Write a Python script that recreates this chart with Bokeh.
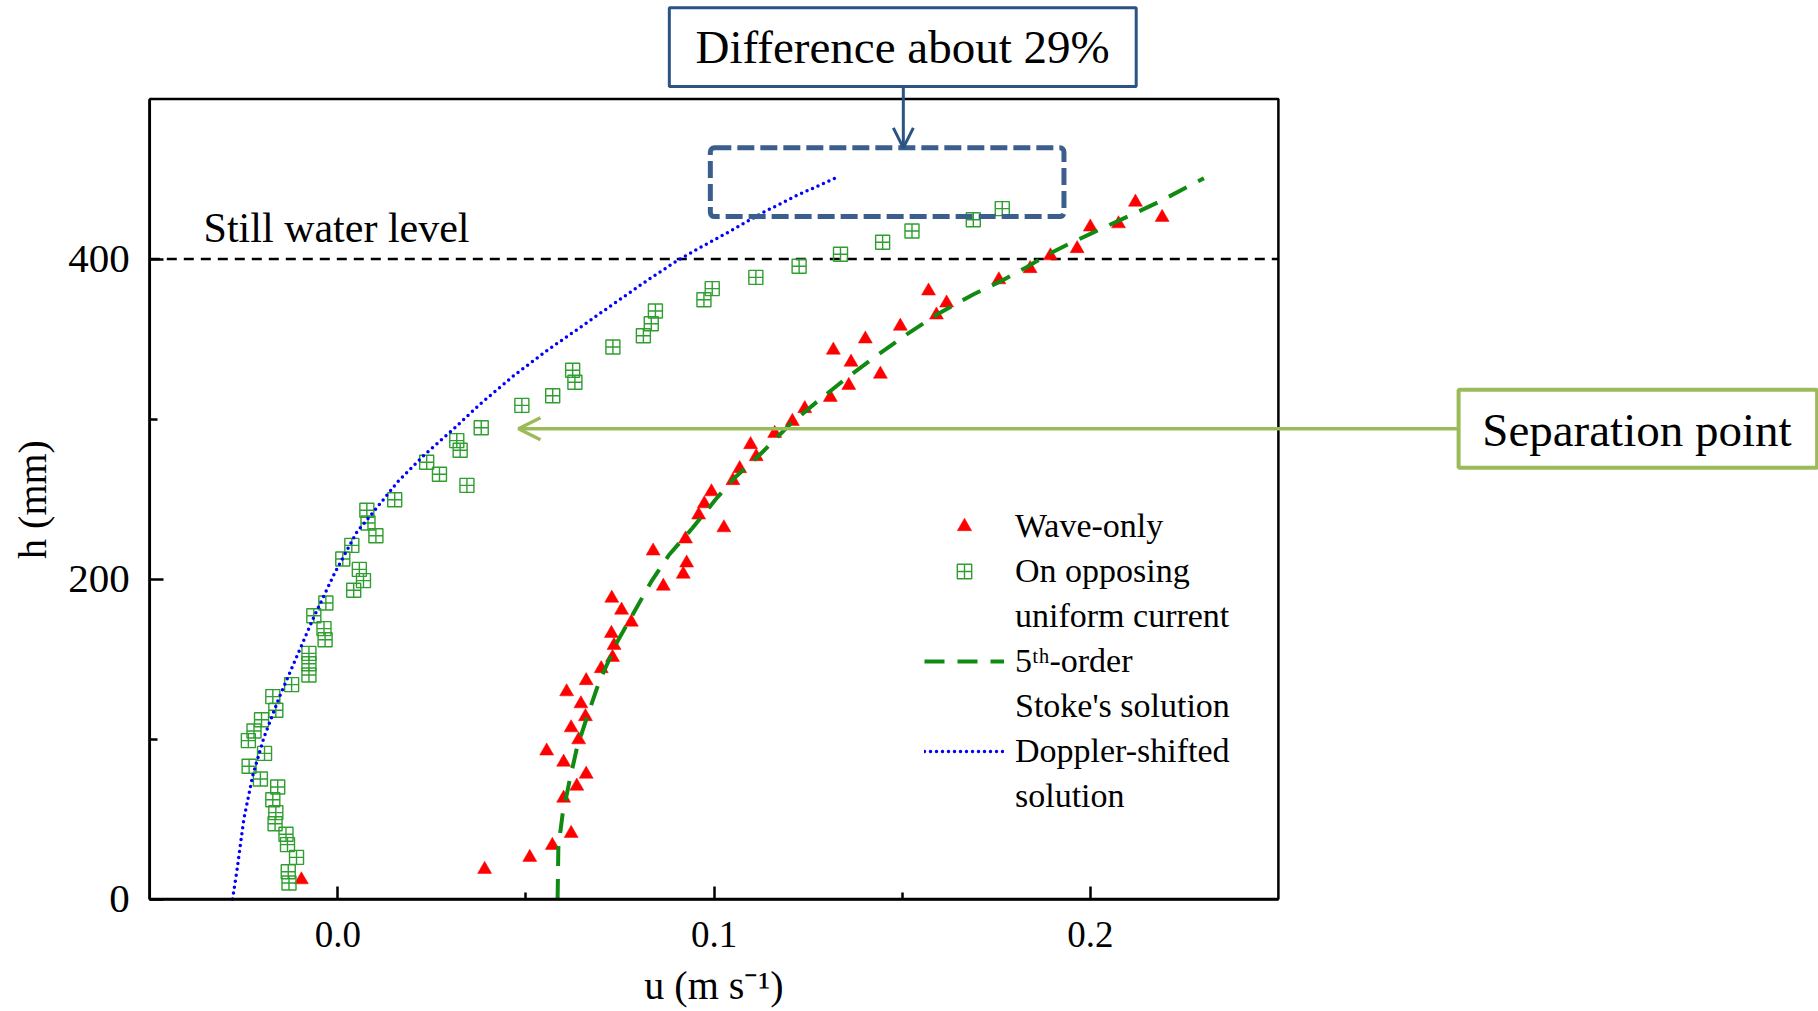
from bokeh.plotting import figure
from bokeh.models import (FixedTicker, PrintfTickFormatter, BoxAnnotation, Label,
                          Arrow, OpenHead, Legend, LegendItem, Range1d)
from bokeh.core.properties import value
from bokeh.embed import file_html
from bokeh.resources import INLINE

# ---------------- data ----------------
wave_h = [12, 18.5, 26, 33.5, 41, 63, 70.5, 78, 85.5, 92.5, 99.5, 107, 114, 122, 129.5,
          136.5, 144, 151, 158.5, 166, 173, 180.5, 188, 195.5, 203, 210, 217.5, 225, 232, 240,
          247, 254.5, 261.5, 269, 276.5, 284, 291, 298.5, 306.5, 313.5, 321, 328, 335.5, 343, 350,
          358, 365, 372.5, 380, 387, 394, 402, 406.5, 420, 422, 426, 435.5]
wave_u = [-0.0097, 0.039, 0.051, 0.057, 0.062, 0.060, 0.0635, 0.066, 0.060, 0.0555, 0.064, 0.062,
          0.0658, 0.0646, 0.0608, 0.066, 0.070, 0.073, 0.0734, 0.0727, 0.078, 0.0754, 0.0728, 0.0865,
          0.0918, 0.0927, 0.0838, 0.0924, 0.1026, 0.0959, 0.0974, 0.0993, 0.105, 0.1068, 0.1112,
          0.1097, 0.1161, 0.1208, 0.1241, 0.1309, 0.1358, 0.1442, 0.1364, 0.1317, 0.1402, 0.1495,
          0.1591, 0.1618, 0.157, 0.1757, 0.184, 0.1894, 0.1965, 0.2, 0.2075, 0.2191, 0.212]

curr_h = [10, 17, 26, 34, 40.5, 47, 54, 62, 70, 75, 83, 91, 99, 105, 112, 118, 126.5, 134, 140,
          147, 153.5, 162, 169, 177, 185, 193, 199, 206, 212.5, 221, 227, 235, 243, 249.5, 258.5,
          265.5, 273, 280.5, 286.5, 294.5, 308.5, 314.5, 323, 330.5, 345, 352, 359.5, 367.5, 374.5,
          381.5, 388.5, 395.5, 403, 410.5, 417.5, 424.5, 431.5]
curr_u = [-0.013, -0.0132, -0.011, -0.0134, -0.0138, -0.0167, -0.0165, -0.0173, -0.016, -0.0206,
          -0.0236, -0.0195, -0.0238, -0.0223, -0.0203, -0.0165, -0.0173, -0.0123, -0.0077, -0.0077,
          -0.0077, -0.0034, -0.0037, -0.0064, -0.0032, 0.0042, 0.0068, 0.0057, 0.0013, 0.0037,
          0.0101, 0.008, 0.0077, 0.0151, 0.0343, 0.027, 0.0236, 0.0325, 0.0316, 0.0381, 0.0489,
          0.0571, 0.063, 0.0624, 0.0731, 0.0812, 0.0833, 0.0844, 0.0973, 0.0995, 0.1111, 0.1226,
          0.1336, 0.1448, 0.1526, 0.1689, 0.1766]

stokes_h = [0, 32, 52.5, 73, 94, 115, 136, 161, 177.5, 198, 215, 231.7, 250, 262.6, 278, 297,
            312.6, 326, 339.7, 353, 365.7, 378, 386.6, 394.9, 402.6, 409.5, 416, 429, 435.5, 450.5]
stokes_u = [0.0584, 0.0586, 0.0597, 0.0615, 0.0635, 0.0664, 0.0695, 0.0743, 0.0783, 0.0832, 0.088,
            0.0942, 0.1005, 0.1052, 0.1123, 0.1203, 0.1283, 0.1354, 0.1433, 0.1513, 0.1595, 0.169,
            0.1766, 0.1831, 0.1885, 0.1944, 0.2003, 0.2122, 0.2181, 0.2302]

doppler_h = [0, 18.4, 50, 77.5, 100.7, 126, 149, 174.7, 204, 229.6, 239.7, 260.5, 277.2, 293.9,
             309.5, 327.2, 342.8, 357.4, 372, 386.6, 399, 406.4, 416.8, 429.3, 439.7, 450.7]
doppler_u = [-0.028, -0.0268, -0.025, -0.0226, -0.0197, -0.0156, -0.0114, -0.0067, -0.0008,
             0.0051, 0.0087, 0.0158, 0.0228, 0.0308, 0.0379, 0.0468, 0.0556, 0.0645, 0.0733,
             0.0822, 0.0902, 0.0957, 0.1038, 0.1132, 0.122, 0.1323]

still_water_level = 400

x_major = [0.0, 0.1, 0.2]
x_minor = [0.05, 0.15]
y_major = [0, 200, 400]
y_minor = [100, 300]

legend_labels = ["Wave-only", "On opposing", "uniform current", "5ᵗʰ-order",
                 "Stoke's solution", "Doppler-shifted", "solution"]

SERIF = "Liberation Serif"

# axis box (data limits) and canvas extents in data units (annotations live outside the box)
U_LO, U_HI = -0.05, 0.25
H_LO, H_HI = 0, 500
X0, X1 = -0.089686, 0.393567
Y0, Y1 = -70.3125, 561.5625

# ---------------- figure ----------------
p = figure(width=1818, height=1011, x_range=Range1d(X0, X1), y_range=Range1d(Y0, Y1),
           output_backend="svg", toolbar_location=None, title=None,
           min_border=0, min_border_left=0, min_border_right=0,
           min_border_top=0, min_border_bottom=0)
p.grid.visible = False
p.background_fill_color = "white"
p.border_fill_color = "white"
p.outline_line_color = None

xa = p.xaxis[0]
xa.fixed_location = H_LO
xa.bounds = (U_LO, U_HI)
xa.ticker = FixedTicker(ticks=x_major, minor_ticks=x_minor)
xa.formatter = PrintfTickFormatter(format="%.1f")
xa.major_tick_in = 13
xa.major_tick_out = 0
xa.minor_tick_in = 7
xa.minor_tick_out = 0
xa.major_tick_line_width = 2.5
xa.minor_tick_line_width = 2.5
xa.axis_line_width = 2.5
xa.major_label_text_font = SERIF
xa.major_label_text_font_size = "37px"
xa.major_label_text_color = "black"
xa.major_label_standoff = 23
xa.axis_label = "u (m s⁻¹)"
xa.axis_label_text_font = SERIF
xa.axis_label_text_font_style = "normal"
xa.axis_label_text_font_size = "40px"
xa.axis_label_text_color = "black"
xa.axis_label_standoff = 12

ya = p.yaxis[0]
ya.fixed_location = U_LO
ya.bounds = (H_LO, H_HI)
ya.ticker = FixedTicker(ticks=y_major, minor_ticks=y_minor)
ya.formatter = PrintfTickFormatter(format="%d")
ya.major_tick_in = 14
ya.major_tick_out = 0
ya.minor_tick_in = 8
ya.minor_tick_out = 0
ya.major_tick_line_width = 2.5
ya.minor_tick_line_width = 2.5
ya.axis_line_width = 2.5
ya.major_label_text_font = SERIF
ya.major_label_text_font_size = "41px"
ya.major_label_text_color = "black"
ya.major_label_standoff = 20
ya.axis_label = "h (mm)"
ya.axis_label_text_font = SERIF
ya.axis_label_text_font_style = "normal"
ya.axis_label_text_font_size = "40px"
ya.axis_label_text_color = "black"
ya.axis_label_standoff = 10

# still water level
p.segment(x0=[U_LO], y0=[still_water_level], x1=[U_HI], y1=[still_water_level],
          line_color="black", line_width=2.5, line_dash="10 7")
p.add_layout(Label(x=-0.0357, y=419.4, text="Still water level", text_font=SERIF,
                   text_font_size="42px", text_color="black", text_baseline="alphabetic"))

# data
r_wave = p.scatter(wave_u, wave_h, marker="triangle", size=14, fill_color="#FF0000",
                   line_color="#FF0000", line_width=0.5)
r_curr = p.scatter(curr_u, curr_h, marker="square_cross", size=14, fill_color=None,
                   line_color="#2E9E2E", line_width=1.4)
r_stokes = p.line(stokes_u, stokes_h, line_color="#108A10", line_width=4, line_dash="20 13")
r_doppler = p.line(doppler_u, doppler_h, line_color="#0000FF", line_width=3.5,
                   line_dash="0 6", line_cap="round")

# plot box
p.add_layout(BoxAnnotation(left=U_LO, right=U_HI, bottom=H_LO, top=H_HI,
                           fill_alpha=0, line_color="black", line_alpha=1, line_width=2.5))

legend = Legend(items=[
    LegendItem(label=value(legend_labels[0]), renderers=[r_wave]),
    LegendItem(label=value(legend_labels[1]), renderers=[r_curr]),
    LegendItem(label=value(legend_labels[2]), renderers=[]),
    LegendItem(label=value(legend_labels[3]), renderers=[r_stokes]),
    LegendItem(label=value(legend_labels[4]), renderers=[]),
    LegendItem(label=value(legend_labels[5]), renderers=[r_doppler]),
    LegendItem(label=value(legend_labels[6]), renderers=[]),
], location=(924, 193), orientation="vertical", background_fill_alpha=0,
   border_line_color=None, padding=0, margin=0, spacing=0, label_height=45,
   glyph_height=36, glyph_width=80, label_standoff=11, label_text_font=SERIF,
   label_text_font_size="34px", label_text_color="black")
p.add_layout(legend)

# dashed highlight rectangle
p.add_layout(BoxAnnotation(left=0.099, right=0.193, bottom=426.5, top=469.5,
                           fill_alpha=0, line_color="#3B5E8C", line_alpha=1, line_width=5,
                           line_dash="17 6", border_radius=4))

# "Difference about 29%" callout
p.add_layout(BoxAnnotation(left=0.0881, right=0.2122, bottom=507.8, top=557.0,
                           fill_color="white", fill_alpha=1, line_color="#2B5384",
                           line_alpha=1, line_width=3))
p.add_layout(Label(x=0.1501, y=532.5, text="Difference about 29%", text_font=SERIF,
                   text_font_size="47px", text_color="black", text_align="center",
                   text_baseline="alphabetic"))
p.add_layout(Arrow(x_start=0.1503, y_start=507.8, x_end=0.1503, y_end=469.5,
                   line_color="#2B5384", line_width=3,
                   end=OpenHead(size=20, line_color="#2B5384", line_width=3)))

# "Separation point" callout
p.add_layout(Arrow(x_start=0.2979, y_start=293.9, x_end=0.048, y_end=293.9,
                   line_color="#9BBB59", line_width=3.5,
                   end=OpenHead(size=22, line_color="#9BBB59", line_width=3.5)))
p.add_layout(BoxAnnotation(left=0.2979, right=0.3932, bottom=269.5, top=318.25,
                           fill_color="white", fill_alpha=1, line_color="#9BBB59",
                           line_alpha=1, line_width=4))
p.add_layout(Label(x=0.3453, y=293.0, text="Separation point", text_font=SERIF,
                   text_font_size="47px", text_color="black", text_align="center",
                   text_baseline="alphabetic"))

open("out.html", "w").write(file_html(p, INLINE))
